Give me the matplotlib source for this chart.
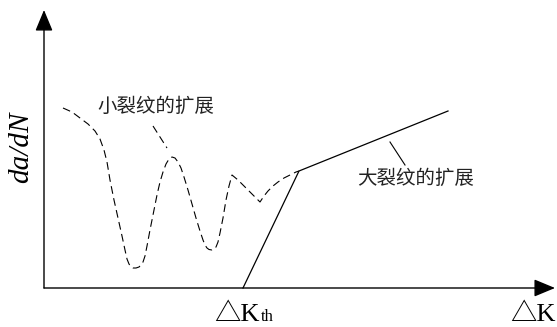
import matplotlib
matplotlib.use("Agg")
import matplotlib.pyplot as plt

# Schematic da/dN vs dK curve; units are arbitrary, origin at the axis corner
small_x = [19, 28, 36, 44, 51, 56, 60, 63, 66, 70, 74, 78, 81, 83, 85, 87, 89, 92,
           95, 97, 99, 101, 103, 106, 110, 113, 116, 119, 122, 125, 128, 131, 134,
           137, 140, 144, 148, 152, 156, 159, 161, 163, 165, 168, 170, 172, 174,
           176, 179, 182, 185, 188, 194, 200, 206, 211, 216, 220, 224, 229, 234,
           240, 246, 252, 255]
small_y = [180, 176, 170, 164, 157, 149, 138, 126, 108, 88, 70, 52, 38, 29, 24, 21,
           20, 20, 21, 23, 26, 32, 42, 58, 78, 93, 106, 116, 124, 129, 131, 130, 126,
           120, 111, 98, 84, 70, 57, 48, 43, 40, 38.5, 38, 39, 41, 46, 55, 70, 88,
           102, 113, 108, 102, 96, 91, 86, 92, 97, 102, 106, 110, 113, 116, 117]

large_x = [199, 255, 404]
large_y = [0, 117, 177]

small_label = "小裂纹的扩展"
large_label = "大裂纹的扩展"
y_label = "da/dN"
x_label = "△K"
kth_label = "△K"
kth_sub = "th"

fig = plt.figure(figsize=(5.57, 3.27), dpi=100)
ax = fig.add_axes([0, 0, 1, 1])
ax.set_xlim(-44, 513)
ax.set_ylim(-39, 288)
ax.axis("off")

# axes with arrow heads
arrow = dict(arrowstyle="-|>,head_length=0.65,head_width=0.27",
             color="black", lw=1.0, mutation_scale=20, shrinkA=0, shrinkB=0)
ax.annotate("", xy=(511, 0), xytext=(0, 0), arrowprops=arrow)
ax.annotate("", xy=(0, 278), xytext=(0, 0), arrowprops=arrow)

# small crack growth (dashed) and long crack growth (solid)
ax.plot(small_x, small_y, color="black", lw=0.8, ls=(0, (7, 4)))
ax.plot(large_x, large_y, color="black", lw=0.9)

# leader lines
ax.plot([109, 123], [162, 140], color="black", lw=0.8, ls=(0, (7, 4)))
ax.plot([346, 361], [146, 123], color="black", lw=0.8)

cjk = ["Noto Sans CJK SC", "DejaVu Sans"]
ax.text(53, 182, small_label, fontsize=14, family=cjk, weight="light",
        color="#222222", va="center", ha="left")
ax.text(313, 110, large_label, fontsize=14, family=cjk, weight="light",
        color="#222222", va="center", ha="left")

serif = ["Liberation Serif", "Noto Sans CJK SC"]
ax.text(-23, 141, y_label, fontsize=21, family=serif, style="italic",
        rotation=90, ha="center", va="center")
ax.text(216, -33, kth_label, fontsize=19, family=serif, ha="right", va="baseline")
ax.text(217, -33, kth_sub, fontsize=12, family=serif, ha="left", va="baseline")
ax.text(512, -33, x_label, fontsize=19, family=serif, ha="right", va="baseline")

fig.savefig("out.png", dpi=100)
